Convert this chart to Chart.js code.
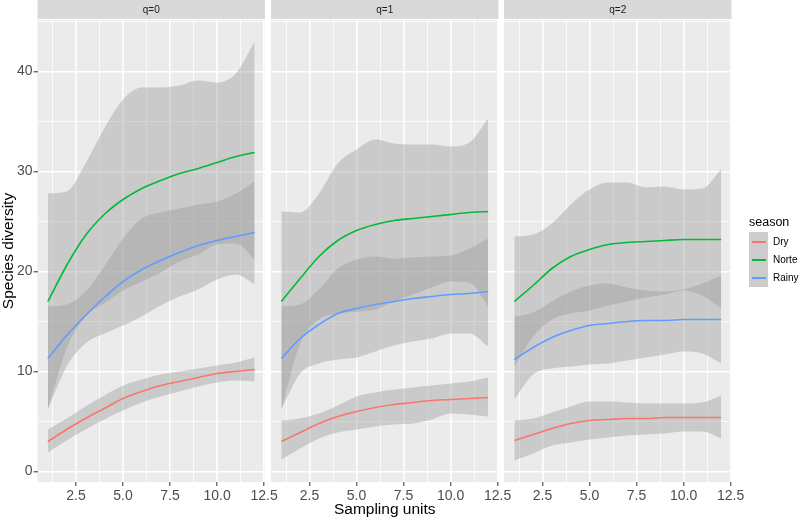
<!DOCTYPE html>
<html>
<head>
<meta charset="utf-8">
<script src="https://cdn.jsdelivr.net/npm/chart.js@4.4.1/dist/chart.umd.min.js"></script>
<style>
  body { margin: 0; background: #fff; }
  #wrap { position: relative; width: 800px; height: 520px; font-family: "Liberation Sans", Arial, sans-serif; }
  #wrap canvas { position: absolute; left: 0; top: 0; }
  #legend { position: absolute; left: 0; top: 0; color: #000; }
  .lg-title { position: absolute; left: 749px; top: 215px; font-size: 12.5px; line-height: 15px; white-space: nowrap; }
  .lg-key { position: absolute; left: 749px; width: 19px; height: 19px; background: #CCCCCC; }
  .lg-key span { position: absolute; left: 3px; width: 14px; top: 9px; height: 2px; }
  .lg-lab { position: absolute; left: 773px; font-size: 10px; line-height: 19px; white-space: nowrap; }
</style>
</head>
<body>
<div id="wrap">
  <canvas id="c0" width="800" height="520"></canvas>
  <canvas id="c1" width="800" height="520"></canvas>
  <canvas id="c2" width="800" height="520"></canvas>
  <div id="legend"></div>
</div>
<script>
// sampling units (x) and labels
var units = [1, 2, 3, 4, 5, 6, 7, 8, 9, 10, 11, 12];
var panels = ['q=0', 'q=1', 'q=2'];
var seasons = ['Dry', 'Norte', 'Rainy'];
var seasonColors = ['#F8766D', '#00BA38', '#619CFF'];
var xTicks = [2.5, 5, 7.5, 10, 12.5];
var xMinor = [1.25, 3.75, 6.25, 8.75, 11.25];
var yTicks = [0, 10, 20, 30, 40];
var yMinor = [5, 15, 25, 35, 45];

// q=0
var dryQ0     = [3.0, 4.2, 5.3, 6.3, 7.3, 8.0, 8.6, 9.0, 9.4, 9.8, 10.0, 10.2];
var dryQ0Lo   = [1.9, 3.1, 4.2, 5.2, 6.1, 6.9, 7.5, 8.0, 8.5, 8.9, 9.1, 9.0];
var dryQ0Hi   = [4.2, 5.3, 6.5, 7.6, 8.6, 9.2, 9.7, 10.0, 10.3, 10.6, 10.9, 11.4];
var norteQ0   = [17.0, 20.6, 23.6, 25.7, 27.2, 28.3, 29.1, 29.8, 30.3, 30.9, 31.5, 31.9];
var norteQ0Lo = [6.2, 12.3, 15.5, 16.8, 18.1, 19.0, 19.9, 21.0, 21.7, 22.7, 22.8, 21.2];
var norteQ0Hi = [27.8, 28.0, 30.8, 34.3, 37.2, 38.4, 38.4, 38.6, 39.1, 38.9, 39.8, 43.0];
var rainyQ0   = [11.3, 13.6, 15.6, 17.4, 19.0, 20.2, 21.1, 21.9, 22.6, 23.1, 23.5, 23.9];
var rainyQ0Lo = [6.2, 10.5, 12.8, 13.8, 14.6, 15.5, 16.6, 17.5, 18.2, 19.2, 19.7, 18.7];
var rainyQ0Hi = [16.5, 16.7, 18.0, 20.5, 23.3, 25.3, 25.9, 26.3, 26.7, 27.0, 27.8, 29.0];

// q=1
var dryQ1     = [3.0, 3.9, 4.8, 5.5, 6.0, 6.4, 6.7, 6.9, 7.1, 7.2, 7.3, 7.4];
var dryQ1Lo   = [1.2, 2.3, 3.3, 3.9, 4.2, 4.5, 4.7, 4.8, 5.2, 5.8, 5.7, 5.5];
var dryQ1Hi   = [5.1, 5.3, 5.8, 6.6, 7.5, 7.9, 8.2, 8.4, 8.6, 8.8, 9.0, 9.4];
var norteQ1   = [17.0, 19.3, 21.5, 23.1, 24.1, 24.7, 25.1, 25.3, 25.5, 25.7, 25.9, 26.0];
var norteQ1Lo = [6.2, 12.8, 15.2, 15.8, 16.0, 16.2, 17.0, 17.7, 18.4, 19.0, 18.9, 16.5];
var norteQ1Hi = [26.0, 25.9, 27.8, 30.8, 32.2, 33.2, 32.8, 32.7, 32.7, 32.5, 32.9, 35.3];
var rainyQ1   = [11.3, 13.3, 14.7, 15.8, 16.3, 16.7, 17.0, 17.3, 17.5, 17.7, 17.8, 18.0];
var rainyQ1Lo = [6.2, 9.8, 10.8, 11.2, 11.4, 12.0, 12.6, 13.0, 13.3, 13.8, 13.8, 12.5];
var rainyQ1Hi = [16.5, 16.7, 18.2, 20.3, 21.2, 21.5, 21.3, 21.4, 21.5, 21.6, 22.3, 23.3];

// q=2
var dryQ2     = [3.1, 3.7, 4.3, 4.8, 5.1, 5.2, 5.3, 5.3, 5.4, 5.4, 5.4, 5.4];
var dryQ2Lo   = [1.1, 1.8, 2.6, 2.9, 3.2, 3.4, 3.6, 3.7, 3.8, 4.0, 4.0, 3.3];
var dryQ2Hi   = [5.1, 5.3, 5.9, 6.5, 7.0, 7.0, 6.9, 6.8, 6.8, 6.8, 6.9, 7.6];
var norteQ2   = [17.0, 18.6, 20.3, 21.5, 22.2, 22.7, 22.9, 23.0, 23.1, 23.2, 23.2, 23.2];
var norteQ2Lo = [10.5, 13.5, 15.2, 15.8, 16.1, 16.6, 17.0, 17.4, 17.7, 18.1, 17.6, 16.3];
var norteQ2Hi = [23.5, 23.7, 24.8, 26.7, 28.2, 28.9, 28.9, 28.4, 28.5, 28.2, 28.3, 30.2];
var rainyQ2   = [11.2, 12.4, 13.4, 14.1, 14.6, 14.8, 15.0, 15.1, 15.1, 15.2, 15.2, 15.2];
var rainyQ2Lo = [7.2, 9.7, 10.3, 10.5, 10.7, 10.8, 11.1, 11.4, 11.7, 12.0, 11.8, 10.8];
var rainyQ2Hi = [15.5, 15.9, 17.0, 18.0, 18.6, 18.8, 18.4, 18.1, 18.0, 18.2, 18.8, 19.6];

var panelData = [
  [[dryQ0, dryQ0Lo, dryQ0Hi], [norteQ0, norteQ0Lo, norteQ0Hi], [rainyQ0, rainyQ0Lo, rainyQ0Hi]],
  [[dryQ1, dryQ1Lo, dryQ1Hi], [norteQ1, norteQ1Lo, norteQ1Hi], [rainyQ1, rainyQ1Lo, rainyQ1Hi]],
  [[dryQ2, dryQ2Lo, dryQ2Hi], [norteQ2, norteQ2Lo, norteQ2Hi], [rainyQ2, rainyQ2Lo, rainyQ2Hi]]
];

// layout of the facets (pixels)
var panelLeft = [37.5, 271, 504];
var panelW = 227.5;
var yAxisW = 37.5;
var FONT = '"Liberation Sans", Arial, sans-serif';

function pts(vals) {
  return units.map(function (u, i) { return { x: u, y: vals[i] }; });
}

// grey panel background + strip with the facet label
var facetPlugin = {
  id: 'facet',
  beforeDraw: function (chart, args, opts) {
    var a = chart.chartArea, ctx = chart.ctx;
    ctx.save();
    ctx.fillStyle = '#EBEBEB';
    ctx.fillRect(a.left, a.top, a.right - a.left, a.bottom - a.top);
    ctx.fillStyle = '#D9D9D9';
    ctx.fillRect(a.left, 0, a.right - a.left, a.top - 1);
    ctx.fillStyle = '#1A1A1A';
    ctx.font = '10px ' + FONT;
    ctx.textAlign = 'center';
    ctx.textBaseline = 'middle';
    ctx.fillText(opts.label, (a.left + a.right) / 2, (a.top - 1) / 2 + 1);
    ctx.restore();
  }
};

function makePanel(p) {
  var datasets = [];
  // lines on top
  seasons.forEach(function (s, k) {
    datasets.push({
      label: s,
      data: pts(panelData[p][k][0]),
      borderColor: seasonColors[k],
      borderWidth: 1.6,
      pointRadius: 0,
      fill: false,
      order: 0,
      cubicInterpolationMode: 'monotone'
    });
  });
  // confidence ribbons
  seasons.forEach(function (s, k) {
    datasets.push({
      label: s + ' lower',
      data: pts(panelData[p][k][1]),
      borderColor: 'rgba(0,0,0,0)',
      borderWidth: 1,
      pointRadius: 0,
      fill: false,
      order: 1,
      cubicInterpolationMode: 'monotone'
    });
    datasets.push({
      label: s + ' upper',
      data: pts(panelData[p][k][2]),
      borderColor: 'rgba(0,0,0,0)',
      borderWidth: 1,
      pointRadius: 0,
      fill: '-1',
      backgroundColor: 'rgba(153,153,153,0.4)',
      order: 1,
      cubicInterpolationMode: 'monotone'
    });
  });

  var first = p === 0;
  var yW = first ? yAxisW : 0;

  function gridWidth(list) {
    return function (c) { return list.indexOf(c.tick.value) >= 0 ? 1.6 : 0.8; };
  }
  function tickCol(list) {
    return function (c) { return list.indexOf(c.tick.value) >= 0 ? '#333333' : 'rgba(0,0,0,0)'; };
  }

  new Chart(document.getElementById('c' + p), {
    type: 'line',
    data: { datasets: datasets },
    plugins: [facetPlugin],
    options: {
      responsive: false,
      animation: false,
      events: [],
      layout: {
        padding: { left: panelLeft[p] - yW, right: 800 - panelLeft[p] - panelW, top: 20, bottom: 0 }
      },
      plugins: {
        legend: { display: false },
        tooltip: { enabled: false },
        facet: { label: panels[p] }
      },
      scales: {
        x: {
          type: 'linear',
          min: 0.45,
          max: 12.55,
          afterBuildTicks: function (s) {
            s.ticks = xMinor.concat(xTicks).sort(function (a, b) { return a - b; })
              .map(function (v) { return { value: v }; });
          },
          afterFit: function (s) { s.height = 38; s.paddingLeft = 0; s.paddingRight = 0; },
          ticks: {
            autoSkip: false,
            maxRotation: 0,
            padding: 2,
            color: '#4D4D4D',
            font: { family: FONT, size: 14 },
            callback: function (v) { return xTicks.indexOf(v) >= 0 ? v.toFixed(1) : ''; }
          },
          grid: {
            color: '#FFFFFF',
            lineWidth: gridWidth(xTicks),
            tickLength: 4,
            tickColor: tickCol(xTicks),
            tickWidth: 1
          },
          border: { display: false },
          title: {
            display: p === 1,
            text: 'Sampling units',
            color: '#000000',
            font: { family: FONT, size: 15.5, lineHeight: 1.2 },
            padding: { top: 0, bottom: 1 }
          }
        },
        y: {
          type: 'linear',
          min: -1.05,
          max: 45.15,
          afterBuildTicks: function (s) {
            s.ticks = yTicks.concat(yMinor).sort(function (a, b) { return a - b; })
              .map(function (v) { return { value: v }; });
          },
          afterFit: function (s) { s.width = yW; s.paddingTop = 0; s.paddingBottom = 0; },
          ticks: {
            display: first,
            padding: 1,
            color: '#4D4D4D',
            font: { family: FONT, size: 14 },
            callback: function (v) { return yTicks.indexOf(v) >= 0 ? String(v) : ''; }
          },
          grid: {
            color: '#FFFFFF',
            lineWidth: gridWidth(yTicks),
            drawTicks: first,
            tickLength: 4,
            tickColor: tickCol(yTicks),
            tickWidth: 1
          },
          border: { display: false },
          title: {
            display: first,
            text: 'Species diversity',
            color: '#000000',
            font: { family: FONT, size: 15.5, lineHeight: 1 },
            padding: { top: 0.5, bottom: 0 }
          }
        }
      }
    }
  });
}

for (var p = 0; p < panels.length; p++) {
  makePanel(p);
}

// legend
var legendBox = document.getElementById('legend');
var html = '<div class="lg-title">season</div>';
for (var i = 0; i < seasons.length; i++) {
  var rowTop = 232 + 18 * i;
  html += '<div class="lg-key" style="top:' + rowTop + 'px"><span style="background:' + seasonColors[i] + '"></span></div>';
  html += '<div class="lg-lab" style="top:' + rowTop + 'px">' + seasons[i] + '</div>';
}
legendBox.innerHTML = html;
</script>
</body>
</html>
